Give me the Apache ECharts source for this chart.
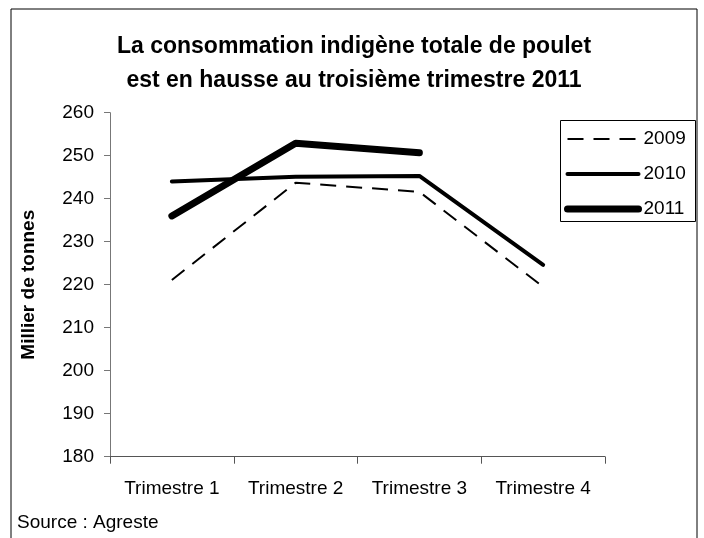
<!DOCTYPE html>
<html>
<head>
<meta charset="utf-8">
<script src="https://cdn.jsdelivr.net/npm/echarts@6/dist/echarts.min.js"></script>
<style>
  html, body { margin: 0; padding: 0; background: #fff; }
  #chart { width: 704px; height: 538px; }
</style>
</head>
<body>
<div id="chart"></div>
<script>
// données (milliers de tonnes)
var categories = ["Trimestre 1", "Trimestre 2", "Trimestre 3", "Trimestre 4"];
var years = ["2009", "2010", "2011"];
var values2009 = [221.1, 243.7, 241.6, 219.5];
var values2010 = [244.0, 245.1, 245.3, 224.6];
var values2011 = [236.0, 252.9, 250.7, null];

var font = "Liberation Sans, Arial, sans-serif";

var myChart = echarts.init(document.getElementById("chart"));
myChart.setOption({
  animation: false,
  title: {
    text: "La consommation indigène totale de poulet\nest en hausse au troisième trimestre 2011",
    left: 349,
    top: 25,
    textAlign: "center",
    textStyle: {
      fontFamily: font,
      fontSize: 23,
      fontWeight: "bold",
      color: "#000",
      lineHeight: 34,
    },
  },
  legend: {
    // icône = trait seul, épaisseur comme la série
    data: [
      { name: years[0], itemStyle: { opacity: 0 }, lineStyle: { width: 2 } },
      { name: years[1], itemStyle: { opacity: 0 }, lineStyle: { width: 4 } },
      { name: years[2], itemStyle: { opacity: 0 }, lineStyle: { width: 7 } },
    ],
    orient: "vertical",
    left: 564,
    top: 128,
    padding: 0,
    itemWidth: 71,
    itemHeight: 22,
    itemGap: 13,
    textStyle: {
      fontFamily: font,
      fontSize: 19,
      lineHeight: 22,
      color: "#000",
    },
  },
  grid: {
    left: 110,
    right: 99,
    top: 112.7,
    bottom: 81.3,
    containLabel: false,
  },
  xAxis: {
    type: "category",
    data: categories,
    boundaryGap: true,
    axisLine: { show: true, lineStyle: { color: "#555", width: 1 } },
    axisTick: { show: true, interval: 0, length: 7, lineStyle: { color: "#555" } },
    axisLabel: {
      interval: 0,
      margin: 23,
      fontFamily: font,
      fontSize: 19,
      color: "#000",
    },
    splitLine: { show: false },
  },
  yAxis: {
    type: "value",
    min: 180,
    max: 260,
    interval: 10,
    name: "Millier de tonnes",
    nameLocation: "middle",
    nameGap: 72,
    nameTextStyle: {
      fontFamily: font,
      fontSize: 19,
      fontWeight: "bold",
      color: "#000",
    },
    axisLine: { show: true, lineStyle: { color: "#777", width: 1 } },
    axisTick: { show: true, length: 6, lineStyle: { color: "#777" } },
    axisLabel: {
      margin: 16,
      fontFamily: font,
      fontSize: 19,
      color: "#000",
    },
    splitLine: { show: false },
  },
  series: [
    {
      name: years[0],
      type: "line",
      data: values2009,
      symbol: "none",
      itemStyle: { color: "#000" },
      lineStyle: { color: "#000", width: 2, type: [16, 10] },
    },
    {
      name: years[1],
      type: "line",
      data: values2010,
      symbol: "none",
      itemStyle: { color: "#000" },
      lineStyle: { color: "#000", width: 4, cap: "round", join: "round" },
    },
    {
      name: years[2],
      type: "line",
      data: values2011,
      symbol: "none",
      connectNulls: false,
      itemStyle: { color: "#000" },
      lineStyle: { color: "#000", width: 7, cap: "round", join: "round" },
    },
  ],
  graphic: [
    {
      type: "rect",
      shape: { x: 11, y: 9, width: 686, height: 540 },
      style: { fill: "none", stroke: "#000", lineWidth: 1 },
      silent: true,
    },
    {
      type: "rect",
      shape: { x: 560.5, y: 120.5, width: 135, height: 101 },
      style: { fill: "none", stroke: "#000", lineWidth: 1 },
      silent: true,
    },
    {
      type: "text",
      left: 17,
      top: 513,
      style: {
        text: "Source : Agreste",
        fontFamily: font,
        fontSize: 19,
        fill: "#000",
      },
    },
  ],
});
</script>
</body>
</html>
